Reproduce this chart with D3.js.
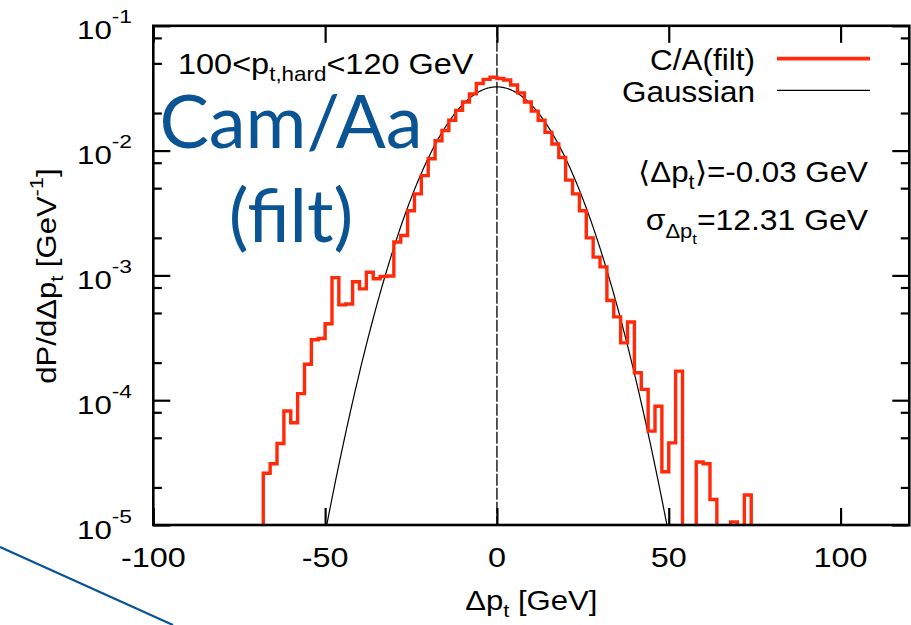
<!DOCTYPE html>
<html>
<head>
<meta charset="utf-8">
<script src="https://cdn.jsdelivr.net/npm/d3@7"></script>
<style>
  body { margin: 0; background: #fff; }
  svg { display: block; font-family: "Liberation Sans", Arial, sans-serif; }
</style>
</head>
<body>
<div id="chart"></div>
<script>
// histogram: 2 GeV bins starting at -68 GeV
var binStart = -68;
var binWidth = 2;
var density = [
  2.6e-5, 3.1e-5, 4.5e-5, 8.2e-5, 6.6e-5, 1.13e-4, 1.94e-4, 3.05e-4, 3.12e-4, 4.1e-4,
  9.6e-4, 5.8e-4, 5.9e-4, 8.9e-4, 7.8e-4, 1.06e-3, 9.4e-4, 9.8e-4, 9.9e-4, 1.85e-3,
  2.09e-3, 3.3e-3, 4.5e-3, 6.3e-3, 8.6e-3, 0.0120, 0.0145, 0.0175, 0.0210, 0.0245,
  0.0285, 0.0345, 0.0372, 0.0387, 0.0378, 0.0368, 0.0335, 0.0290, 0.0245, 0.0207,
  0.0175, 0.0140, 0.0113, 0.0088, 0.0058, 0.0045, 0.0033, 0.0020, 0.0014, 0.00117,
  6.3e-4, 4.65e-4, 2.88e-4, 4.23e-4, 1.66e-4, 1.22e-4, 5.65e-5, 8.95e-5, 2.67e-5, 4.55e-5,
  1.71e-4, 0, 0, 3.2e-5, 3.1e-5, 1.6e-5, 0, 0, 1.06e-5, 0,
  1.74e-5
];

// gaussian fit parameters (GeV)
var meanPt = -0.03;
var sigmaPt = 12.31;

var xTicks = [-100, -50, 0, 50, 100];
var yMajor = [1e-5, 1e-4, 1e-3, 1e-2, 1e-1];
var yExp = [-5, -4, -3, -2, -1];
var yMinor = [2e-5, 5e-5, 8e-5, 2e-4, 5e-4, 8e-4, 2e-3, 5e-3, 8e-3, 2e-2, 5e-2, 8e-2];

var W = 911, H = 625;
var pLeft = 153.3, pRight = 909.3, pTop = 25.8, pBottom = 525;
var red = "#ff2a0a", blue = "#0a5494";

var svg = d3.select("#chart").append("svg")
    .attr("width", W)
    .attr("height", H);

var x = d3.scaleLinear().domain([-100, 120]).range([pLeft, pRight]);
var y = d3.scaleLog().domain([1e-5, 1e-1]).range([pBottom, pTop]);

svg.append("clipPath").attr("id", "plot")
  .append("rect")
    .attr("x", pLeft).attr("y", pTop)
    .attr("width", pRight - pLeft).attr("height", pBottom - pTop);

// text stretched along its direction, the reference glyphs are wide
function wideText(g, tx, ty, sx, anchor, size) {
  return g.append("g")
      .attr("transform", "translate(" + tx + "," + ty + ") scale(" + sx + ",1)")
    .append("text")
      .attr("text-anchor", anchor)
      .attr("font-size", size);
}

// ticks (inward, mirrored)
function styleAxis(g) {
  g.select(".domain").remove();
  g.selectAll(".tick line").attr("stroke", "#000").attr("stroke-width", 2.2);
  g.selectAll(".tick text").remove();
}
svg.append("g").attr("transform", "translate(0," + pBottom + ")")
    .call(d3.axisBottom(x).tickValues(xTicks).tickSize(-17)).call(styleAxis);
svg.append("g").attr("transform", "translate(0," + pTop + ")")
    .call(d3.axisTop(x).tickValues(xTicks).tickSize(-17)).call(styleAxis);
svg.append("g").attr("transform", "translate(" + pLeft + ",0)")
    .call(d3.axisLeft(y).tickValues(yMajor).tickSize(-17)).call(styleAxis);
svg.append("g").attr("transform", "translate(" + pLeft + ",0)")
    .call(d3.axisLeft(y).tickValues(yMinor).tickSize(-8.5)).call(styleAxis);
svg.append("g").attr("transform", "translate(" + pRight + ",0)")
    .call(d3.axisRight(y).tickValues(yMajor).tickSize(-17)).call(styleAxis);
svg.append("g").attr("transform", "translate(" + pRight + ",0)")
    .call(d3.axisRight(y).tickValues(yMinor).tickSize(-8.5)).call(styleAxis);

// x tick labels
xTicks.forEach(function(v) {
  wideText(svg, x(v), pBottom + 42, 1.2, "middle", 27).text(v);
});

// y tick labels 10^n
yMajor.forEach(function(v, i) {
  var t = wideText(svg, 132, y(v) + 13.5, 1.2, "end", 26);
  t.append("tspan").text("10");
  t.append("tspan").attr("dy", -16).attr("font-size", 19).text(yExp[i]);
});

var plot = svg.append("g").attr("clip-path", "url(#plot)");

// dashed line at zero
plot.append("line")
    .attr("x1", x(0)).attr("x2", x(0))
    .attr("y1", pTop).attr("y2", pBottom)
    .attr("stroke", "#000")
    .attr("stroke-width", 1.3)
    .attr("stroke-dasharray", "12,2");

// gaussian curve
var gauss = function(v) {
  return Math.exp(-(v - meanPt) * (v - meanPt) / (2 * sigmaPt * sigmaPt)) / (sigmaPt * Math.sqrt(2 * Math.PI));
};
var gx = d3.range(-60, 60.01, 0.25);
plot.append("path")
    .datum(gx)
    .attr("fill", "none")
    .attr("stroke", "#000")
    .attr("stroke-width", 1.2)
    .attr("d", d3.line()
      .x(function(v) { return x(v); })
      .y(function(v) { return y(Math.max(gauss(v), 1e-7)); }));

// histogram steps
var floorV = 1e-6;
var pts = [[binStart, floorV]];
density.forEach(function(d, i) {
  var lo = binStart + i * binWidth;
  var v = Math.max(d, floorV);
  pts.push([lo, v]);
  pts.push([lo + binWidth, v]);
});
pts.push([binStart + density.length * binWidth, floorV]);

plot.append("path")
    .datum(pts)
    .attr("fill", "none")
    .attr("stroke", red)
    .attr("stroke-width", 3.4)
    .attr("stroke-linejoin", "miter")
    .attr("d", d3.line()
      .x(function(p) { return x(p[0]); })
      .y(function(p) { return y(p[1]); }));

// frame
svg.append("rect")
    .attr("x", pLeft).attr("y", pTop)
    .attr("width", pRight - pLeft).attr("height", pBottom - pTop)
    .attr("fill", "none")
    .attr("stroke", "#000")
    .attr("stroke-width", 2.6);

// axis titles
var xt = wideText(svg, x(10), 610, 1.15, "middle", 27);
xt.append("tspan").text("\u0394p");
xt.append("tspan").attr("dy", 7).attr("font-size", 19).text("t");
xt.append("tspan").attr("dy", -7).text(" [GeV]");

var yt = svg.append("g")
    .attr("transform", "translate(56,276) rotate(-90) scale(1.15,1)")
  .append("text")
    .attr("text-anchor", "middle")
    .attr("font-size", 27);
yt.append("tspan").text("dP/d\u0394p");
yt.append("tspan").attr("dy", 7).attr("font-size", 19).text("t");
yt.append("tspan").attr("dy", -7).text(" [GeV");
yt.append("tspan").attr("dy", -13).attr("font-size", 19).text("-1");
yt.append("tspan").attr("dy", 13).text("]");

// range label
var rl = wideText(svg, 178, 74, 1.12, "start", 29);
rl.append("tspan").text("100<p");
rl.append("tspan").attr("dy", 7).attr("font-size", 20).text("t,hard");
rl.append("tspan").attr("dy", -7).text("<120 GeV");

// legend
wideText(svg, 755, 70, 1.05, "end", 30).text("C/A(filt)");
wideText(svg, 755, 101.7, 1.05, "end", 30).text("Gaussian");
svg.append("line").attr("x1", 777).attr("x2", 870).attr("y1", 58.7).attr("y2", 58.7)
    .attr("stroke", red).attr("stroke-width", 3.8);
svg.append("line").attr("x1", 777).attr("x2", 870).attr("y1", 90.3).attr("y2", 90.3)
    .attr("stroke", "#000").attr("stroke-width", 1.2);

// fit results
var m = wideText(svg, 868, 181.7, 1.08, "end", 29);
m.append("tspan").text("\u27e8\u0394p");
m.append("tspan").attr("dy", 7).attr("font-size", 20).text("t");
m.append("tspan").attr("dy", -7).text("\u27e9=" + meanPt.toFixed(2) + " GeV");

var s = wideText(svg, 868, 230, 1.1, "end", 29);
s.append("tspan").text("\u03c3");
s.append("tspan").attr("dy", 8).attr("font-size", 20).text("\u0394p");
s.append("tspan").attr("dy", 6).attr("font-size", 15).text("t");
s.append("tspan").attr("dy", -14).text("=" + sigmaPt.toFixed(2) + " GeV");

// slide annotation
svg.append("text")
    .attr("x", 291).attr("y", 148)
    .attr("text-anchor", "middle")
    .attr("font-family", "Lato, 'Open Sans', sans-serif")
    .attr("font-size", 74)
    .attr("fill", blue)
    .text("Cam/Aa");
svg.append("text")
    .attr("x", 291).attr("y", 242)
    .attr("text-anchor", "middle")
    .attr("font-family", "Lato, 'Open Sans', sans-serif")
    .attr("font-size", 74)
    .attr("fill", blue)
    .text("(filt)");
svg.append("line")
    .attr("x1", 0).attr("y1", 547).attr("x2", 173).attr("y2", 625)
    .attr("stroke", blue)
    .attr("stroke-width", 2.2);
</script>
</body>
</html>
